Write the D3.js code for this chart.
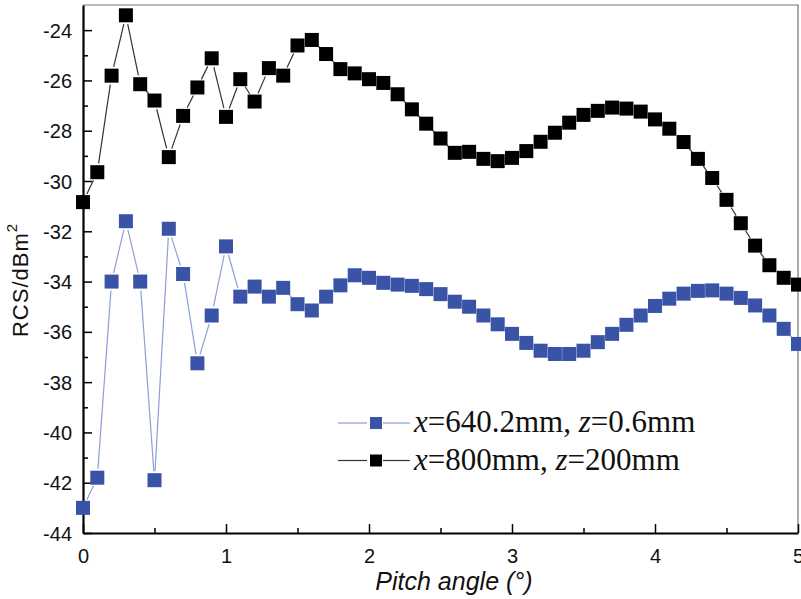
<!DOCTYPE html>
<html>
<head>
<meta charset="utf-8">
<script src="https://cdn.jsdelivr.net/npm/d3@7"></script>
<style>
  body { margin: 0; background: #fff; }
  svg { display: block; }
</style>
</head>
<body>
<svg id="chart" width="801" height="599"></svg>
<script>
// pitch angle 0..5 step 0.1
var angles = d3.range(51).map(function(i) { return +(i / 10).toFixed(1); });

var rcsBlue = [
  -43.0, -41.8, -34.0, -31.6, -34.0, -41.9, -31.9, -33.7, -37.25, -35.35,
  -32.6, -34.6, -34.2, -34.6, -34.25, -34.9, -35.15, -34.6, -34.15, -33.75,
  -33.85, -34.05, -34.12, -34.17, -34.3, -34.5, -34.8, -35.0, -35.35, -35.7,
  -36.08, -36.44, -36.75, -36.88, -36.88, -36.75, -36.41, -36.08, -35.72, -35.35,
  -34.97, -34.68, -34.48, -34.37, -34.35, -34.48, -34.65, -34.95, -35.35, -35.88,
  -36.48
];

var rcsBlack = [
  -30.84, -29.65, -25.81, -23.41, -26.15, -26.8, -29.05, -27.41, -26.28, -25.12,
  -27.45, -25.95, -26.84, -25.51, -25.81, -24.61, -24.39, -24.95, -25.55, -25.72,
  -25.95, -26.1, -26.55, -27.15, -27.72, -28.31, -28.88, -28.84, -29.12, -29.21,
  -29.08, -28.81, -28.44, -28.08, -27.68, -27.37, -27.21, -27.08, -27.12, -27.24,
  -27.55, -27.92, -28.45, -29.12, -29.88, -30.75, -31.68, -32.57, -33.35, -33.85,
  -34.12
];

var xTicks = [0, 1, 2, 3, 4, 5];
var yTicks = [-24, -26, -28, -30, -32, -34, -36, -38, -40, -42, -44];

var series = [
  { name: "blue", values: rcsBlue, fill: "#3953a6", line: "#8d9edb",
    label: [["x", true], ["=640.2mm, ", false], ["z", true], ["=0.6mm", false]] },
  { name: "black", values: rcsBlack, fill: "#000", line: "#333",
    label: [["x", true], ["=800mm, ", false], ["z", true], ["=200mm", false]] }
];

var svg = d3.select("#chart");
var plotL = 83, plotR = 798, plotT = 5, plotB = 533;

var x = d3.scaleLinear().domain([0, 5]).range([plotL, plotR]);
var y = d3.scaleLinear().domain([-44, -23]).range([plotB, plotT]);

// plain hyphen for negatives, like the original
var fmt = function(d) { return String(d); };

// frame (top / right thin)
svg.append("path")
  .attr("d", "M" + plotL + "," + plotT + "H" + plotR + "V" + plotB)
  .attr("fill", "none").attr("stroke", "#777").attr("stroke-width", 1.2);

// minor ticks
var xAxisMinor = d3.axisBottom(x).tickValues(d3.range(0.5, 5, 1)).tickSizeInner(-5).tickSizeOuter(0).tickFormat("");
var yAxisMinor = d3.axisLeft(y).tickValues(d3.range(-43, -23, 2)).tickSizeInner(-5).tickSizeOuter(0).tickFormat("");

svg.append("g").attr("transform", "translate(0," + plotB + ")").call(xAxisMinor)
  .call(function(g) { g.select(".domain").remove(); g.selectAll("line").attr("stroke-width", 1.5); });
svg.append("g").attr("transform", "translate(" + plotL + ",0)").call(yAxisMinor)
  .call(function(g) { g.select(".domain").remove(); g.selectAll("line").attr("stroke-width", 1.5); });

// major axes
var xAxis = d3.axisBottom(x).tickValues(xTicks).tickSizeInner(-9).tickSizeOuter(0).tickPadding(16).tickFormat(fmt);
var yAxis = d3.axisLeft(y).tickValues(yTicks).tickSizeInner(-9).tickSizeOuter(0).tickPadding(11).tickFormat(fmt);

var gx = svg.append("g").attr("transform", "translate(0," + plotB + ")").call(xAxis);
var gy = svg.append("g").attr("transform", "translate(" + plotL + ",0)").call(yAxis);

[gx, gy].forEach(function(g) {
  g.select(".domain").attr("stroke", "#000").attr("stroke-width", 2.2);
  g.selectAll(".tick line").attr("stroke-width", 1.5);
  g.selectAll("text").attr("font-family", "Liberation Sans, Arial, sans-serif")
    .attr("font-size", 20).attr("fill", "#111");
});
gy.selectAll("text").attr("dy", "0.35em");

// series: Origin-style line segments that stop short of the markers
var ms = 14, gap = 9;
series.forEach(function(s) {
  var pts = s.values.map(function(v, i) { return [x(angles[i]), y(v)]; });
  var segs = [];
  for (var i = 0; i < pts.length - 1; i++) {
    var a = pts[i], b = pts[i + 1];
    var dx = b[0] - a[0], dy = b[1] - a[1];
    var len = Math.sqrt(dx * dx + dy * dy);
    if (len <= 2 * gap + 2) continue;
    var ux = dx / len, uy = dy / len;
    segs.push([a[0] + ux * gap, a[1] + uy * gap, b[0] - ux * gap, b[1] - uy * gap]);
  }
  svg.append("g").selectAll("line")
    .data(segs)
    .enter()
    .append("line")
    .attr("x1", function(d) { return d[0]; })
    .attr("y1", function(d) { return d[1]; })
    .attr("x2", function(d) { return d[2]; })
    .attr("y2", function(d) { return d[3]; })
    .attr("stroke", s.line)
    .attr("stroke-width", 1.2);

  svg.append("g").selectAll("rect")
    .data(s.values)
    .enter()
    .append("rect")
    .attr("x", function(d, i) { return x(angles[i]) - ms / 2; })
    .attr("y", function(d) { return y(d) - ms / 2; })
    .attr("width", ms)
    .attr("height", ms)
    .attr("fill", s.fill);
});

// legend
var legend = svg.append("g");
series.forEach(function(s, i) {
  var ly = 423 + i * 37.5;
  legend.append("line")
    .attr("x1", 338).attr("x2", 367).attr("y1", ly).attr("y2", ly)
    .attr("stroke", s.line).attr("stroke-width", 1.2);
  legend.append("line")
    .attr("x1", 383).attr("x2", 410).attr("y1", ly).attr("y2", ly)
    .attr("stroke", s.line).attr("stroke-width", 1.2);
  legend.append("rect")
    .attr("x", 376 - 6).attr("y", ly - 6).attr("width", 12).attr("height", 12)
    .attr("fill", s.fill);
  var t = legend.append("text")
    .attr("x", 414).attr("y", ly + 9)
    .attr("font-family", "Liberation Serif, Times New Roman, serif")
    .attr("font-size", 31).attr("fill", "#111");
  s.label.forEach(function(p) {
    t.append("tspan").text(p[0]).attr("font-style", p[1] ? "italic" : "normal");
  });
});

// axis titles
svg.append("text")
  .attr("x", 454).attr("y", 590)
  .attr("text-anchor", "middle")
  .attr("font-family", "Liberation Sans, Arial, sans-serif")
  .attr("font-size", 25).attr("font-style", "italic").attr("fill", "#111")
  .text("Pitch angle (°)");

var yl = svg.append("text")
  .attr("transform", "translate(28,280) rotate(-90)")
  .attr("text-anchor", "middle")
  .attr("font-family", "Liberation Sans, Arial, sans-serif")
  .attr("font-size", 22).attr("letter-spacing", 1).attr("fill", "#111");
yl.append("tspan").text("RCS/dBm");
yl.append("tspan").text("2").attr("font-size", 15).attr("dy", -11);
</script>
</body>
</html>
